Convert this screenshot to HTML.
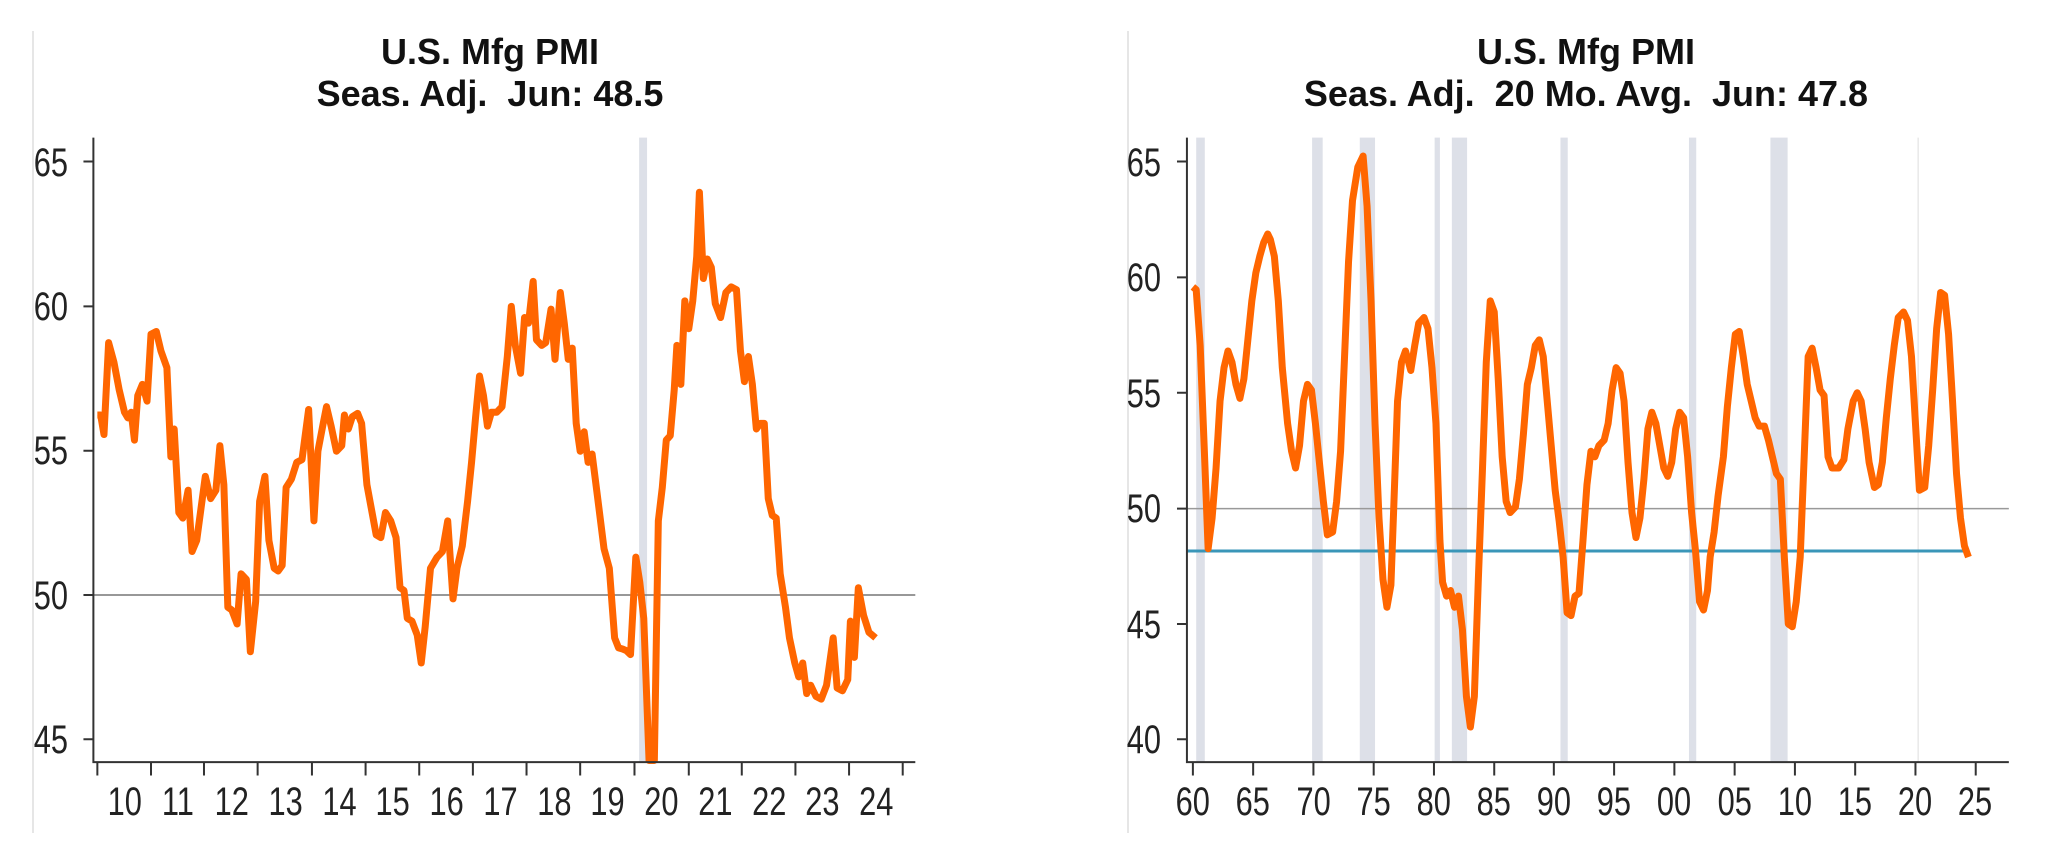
<!DOCTYPE html>
<html><head><meta charset="utf-8"><style>
html,body{margin:0;padding:0;background:#fff;}
svg{display:block}
text{font-family:"Liberation Sans",sans-serif;fill:#111}
.t{font-weight:bold;font-size:36px}
.l{font-size:40px;fill:#222}
</style></head><body>
<svg width="2048" height="861" viewBox="0 0 2048 861" xmlns="http://www.w3.org/2000/svg">
<rect width="2048" height="861" fill="#fff"/>
<line x1="33" y1="31" x2="33" y2="833" stroke="#ddd" stroke-width="1.5"/>
<line x1="1128" y1="31" x2="1128" y2="833" stroke="#ddd" stroke-width="1.5"/>

<!-- LEFT -->
<g transform="scale(0.6623,0.5571)">
<rect x="965" y="247" width="12" height="1121" fill="#dde0e8"/>
<line x1="141" y1="1068" x2="1382" y2="1068" stroke="#777" stroke-width="1.5" vector-effect="non-scaling-stroke"/>
<polyline fill="none" stroke="#ff6600" stroke-width="7" stroke-linejoin="round" vector-effect="non-scaling-stroke" points="147,745 152,745 157,780 164,615 172,650 180,700 188,740 193,750 198,740 203,790 208,710 215,690 222,720 228,600 236,595 243,630 252,660 258,820 263,770 270,920 276,930 284,880 290,990 297,970 310,855 318,895 326,880 332,800 338,870 344,1090 350,1095 358,1120 364,1030 372,1040 378,1170 386,1080 392,900 400,855 406,970 414,1020 420,1025 426,1015 432,875 440,860 448,830 456,825 466,735 474,935 480,810 488,760 493,730 500,765 508,810 516,800 520,745 526,770 532,748 540,742 546,760 554,870 568,960 575,965 582,920 590,935 598,965 604,1055 610,1060 615,1110 622,1115 630,1140 636,1190 642,1125 650,1020 660,1000 668,990 676,935 684,1075 690,1020 698,980 706,900 712,830 718,750 724,675 730,710 736,765 742,740 750,740 758,730 766,640 772,550 778,620 786,670 792,570 798,580 805,505 810,610 818,620 824,615 832,555 838,645 846,525 852,580 858,645 864,625 870,760 876,810 882,775 888,830 894,815 902,890 912,985 920,1020 928,1145 934,1163 940,1165 946,1168 952,1175 960,1000 966,1045 972,1110 980,1365 988,1365 994,935 1000,875 1006,790 1012,782 1018,700 1022,620 1028,690 1034,540 1040,590 1046,540 1052,460 1056,345 1062,500 1068,465 1074,480 1080,545 1088,570 1096,525 1104,515 1112,520 1118,630 1124,685 1130,640 1136,690 1142,770 1148,760 1154,760 1160,895 1166,925 1172,930 1178,1030 1186,1090 1192,1145 1200,1190 1206,1215 1212,1190 1218,1245 1224,1230 1232,1250 1240,1255 1248,1230 1258,1145 1264,1235 1272,1240 1280,1220 1284,1115 1290,1180 1296,1055 1304,1105 1312,1135 1322,1145"/>
<g stroke="#333" stroke-width="2" fill="none">
<path d="M141 247 V1368 H1382" vector-effect="non-scaling-stroke"/>
<path vector-effect="non-scaling-stroke" d="M126 290H141M126 550H141M126 809H141M126 1068H141M126 1327H141
M147 1368V1392M228 1368V1392M308 1368V1392M389 1368V1392M471 1368V1392M552 1368V1392M633 1368V1392M714 1368V1392M795 1368V1392M876 1368V1392M958 1368V1392M1040 1368V1392M1120 1368V1392M1201 1368V1392M1282 1368V1392M1363 1368V1392"/>
</g>
</g>
<text class="t" x="490" y="64" text-anchor="middle">U.S. Mfg PMI</text>
<text class="t" x="490" y="106" text-anchor="middle" xml:space="preserve">Seas. Adj.  Jun: 48.5</text>
<g transform="translate(68,0) scale(0.77,1)">
<text class="l" text-anchor="end" x="0" y="176">65</text>
<text class="l" text-anchor="end" x="0" y="320">60</text>
<text class="l" text-anchor="end" x="0" y="464">55</text>
<text class="l" text-anchor="end" x="0" y="609">50</text>
<text class="l" text-anchor="end" x="0" y="753">45</text>
</g>
<g transform="translate(0,815) scale(0.77,1)">
<text class="l" text-anchor="middle" x="162">10</text><text class="l" text-anchor="middle" x="231">11</text><text class="l" text-anchor="middle" x="301">12</text><text class="l" text-anchor="middle" x="371">13</text><text class="l" text-anchor="middle" x="441">14</text><text class="l" text-anchor="middle" x="510">15</text><text class="l" text-anchor="middle" x="580">16</text><text class="l" text-anchor="middle" x="650">17</text><text class="l" text-anchor="middle" x="720">18</text><text class="l" text-anchor="middle" x="789">19</text><text class="l" text-anchor="middle" x="859">20</text><text class="l" text-anchor="middle" x="929">21</text><text class="l" text-anchor="middle" x="999">22</text><text class="l" text-anchor="middle" x="1068">23</text><text class="l" text-anchor="middle" x="1138">24</text>
</g>

<!-- RIGHT -->
<g transform="translate(1024,0) scale(0.6623,0.5571)">
<g fill="#dde0e8">
<rect x="260" y="247" width="13" height="1121"/><rect x="435" y="247" width="16" height="1121"/><rect x="507" y="247" width="23" height="1121"/><rect x="620" y="247" width="8" height="1121"/><rect x="646" y="247" width="23" height="1121"/><rect x="810" y="247" width="11" height="1121"/><rect x="1004" y="247" width="11" height="1121"/><rect x="1127" y="247" width="26" height="1121"/>
</g>
<line x1="1350" y1="247" x2="1350" y2="1368" stroke="#ddd" stroke-width="1" vector-effect="non-scaling-stroke"/>
<line x1="246" y1="913" x2="1487" y2="913" stroke="#999" stroke-width="1.5" vector-effect="non-scaling-stroke"/>
<line x1="246" y1="989" x2="1426" y2="989" stroke="#3a96b8" stroke-width="3" vector-effect="non-scaling-stroke"/>
<polyline fill="none" stroke="#ff6600" stroke-width="7" stroke-linejoin="round" vector-effect="non-scaling-stroke" points="255,515 260,520 266,620 272,800 278,985 284,930 290,840 296,720 302,660 308,630 314,650 320,690 326,715 332,680 338,610 344,540 350,490 356,460 362,435 368,420 372,430 378,460 384,540 390,660 398,760 404,810 410,840 416,800 422,720 428,690 434,700 440,760 446,830 452,900 458,960 466,955 472,900 478,810 484,640 490,470 496,360 504,300 512,280 518,370 524,540 530,760 536,930 542,1040 548,1090 554,1050 558,920 564,720 570,650 576,630 584,665 590,620 596,580 604,570 610,590 616,660 622,760 628,970 632,1045 638,1070 644,1060 650,1090 656,1070 662,1130 668,1250 674,1305 680,1250 686,1040 692,850 698,650 704,540 710,560 716,680 722,820 728,900 734,920 742,910 748,860 754,780 760,690 766,660 772,620 778,610 784,640 790,720 796,800 802,880 808,935 814,1000 820,1100 826,1105 832,1070 838,1065 844,970 850,870 856,810 862,820 868,800 876,790 882,760 888,700 894,660 900,670 906,720 912,830 918,920 924,965 930,930 936,860 942,770 948,740 954,760 960,800 966,840 972,855 978,830 984,770 990,740 996,750 1002,820 1008,920 1014,990 1020,1080 1026,1095 1032,1060 1036,1000 1042,955 1048,890 1056,820 1062,730 1068,660 1074,600 1080,595 1086,640 1092,690 1098,720 1104,750 1110,765 1118,765 1124,790 1130,820 1136,850 1142,860 1148,1000 1154,1120 1160,1125 1166,1080 1172,1000 1178,820 1184,640 1190,625 1196,660 1202,700 1208,710 1214,820 1220,840 1230,840 1238,825 1244,770 1252,720 1258,705 1264,720 1270,770 1276,830 1284,875 1290,870 1296,830 1302,750 1308,680 1314,620 1320,570 1328,560 1334,575 1340,640 1346,760 1352,880 1360,875 1366,800 1372,700 1378,590 1384,525 1390,530 1396,600 1402,720 1408,850 1414,930 1420,980 1426,1000"/>
<g stroke="#333" fill="none">
<path vector-effect="non-scaling-stroke" stroke-width="2" d="M246 247 V1368 H1487"/>
<path vector-effect="non-scaling-stroke" stroke-width="2" d="M231 290H246M231 498H246M231 705H246M231 913H246M231 1120H246M231 1327H246
M255 1368V1392M346 1368V1392M437 1368V1392M528 1368V1392M619 1368V1392M710 1368V1392M800 1368V1392M891 1368V1392M982 1368V1392M1073 1368V1392M1164 1368V1392M1255 1368V1392M1346 1368V1392M1437 1368V1392"/>
</g>
</g>
<text class="t" x="1586" y="64" text-anchor="middle">U.S. Mfg PMI</text>
<text class="t" x="1586" y="106" text-anchor="middle" xml:space="preserve">Seas. Adj.  20 Mo. Avg.  Jun: 47.8</text>
<g transform="translate(1161,0) scale(0.77,1)">
<text class="l" text-anchor="end" x="0" y="176">65</text>
<text class="l" text-anchor="end" x="0" y="291">60</text>
<text class="l" text-anchor="end" x="0" y="407">55</text>
<text class="l" text-anchor="end" x="0" y="522">50</text>
<text class="l" text-anchor="end" x="0" y="638">45</text>
<text class="l" text-anchor="end" x="0" y="753">40</text>
</g>
<g transform="translate(0,815) scale(0.77,1)">
<text class="l" text-anchor="middle" x="1549">60</text><text class="l" text-anchor="middle" x="1627">65</text><text class="l" text-anchor="middle" x="1706">70</text><text class="l" text-anchor="middle" x="1784">75</text><text class="l" text-anchor="middle" x="1862">80</text><text class="l" text-anchor="middle" x="1940">85</text><text class="l" text-anchor="middle" x="2018">90</text><text class="l" text-anchor="middle" x="2096">95</text><text class="l" text-anchor="middle" x="2174">00</text><text class="l" text-anchor="middle" x="2253">05</text><text class="l" text-anchor="middle" x="2331">10</text><text class="l" text-anchor="middle" x="2409">15</text><text class="l" text-anchor="middle" x="2487">20</text><text class="l" text-anchor="middle" x="2565">25</text>
</g>
</svg>
</body></html>
